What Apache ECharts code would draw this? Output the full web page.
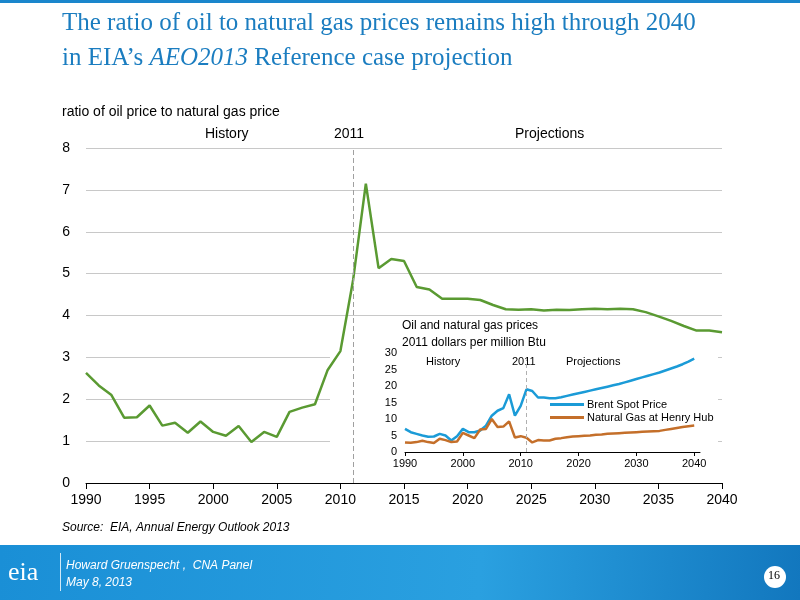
<!DOCTYPE html>
<html>
<head>
<meta charset="utf-8">
<script src="https://cdn.jsdelivr.net/npm/echarts@6/dist/echarts.min.js"></script>
<style>html,body{margin:0;padding:0;background:#fff}#main{width:800px;height:600px}</style>
</head>
<body>
<div id="main"></div>
<script>
// main chart: ratio of oil price to natural gas price, 1990-2040
const years = [];
for (let y = 1990; y <= 2040; y++) years.push(y);
const ratio = [2.63,2.33,2.1,1.56,1.57,1.85,1.37,1.44,1.2,1.47,
  1.22,1.13,1.36,0.98,1.22,1.1,1.7,1.8,1.88,2.7,
  3.15,4.85,7.15,5.13,5.35,5.3,4.68,4.62,4.4,4.4,
  4.4,4.37,4.25,4.15,4.14,4.15,4.12,4.14,4.13,4.15,
  4.16,4.15,4.16,4.15,4.08,3.98,3.87,3.75,3.64,3.64,3.6];
// inset: 2011 dollars per million Btu
const brent = [7,6,5.5,5,4.6,4.7,5.5,5,3.5,4.8,
  7,6,6,6.5,8,11,12.5,13.3,17.5,11,
  14,19,18.5,16.5,16.5,16.3,16.3,16.6,17,17.4,
  17.8,18.2,18.6,19,19.4,19.8,20.2,20.6,21.1,21.6,
  22.1,22.6,23.1,23.6,24.1,24.7,25.3,25.9,26.6,27.4,28.3];
const henryHub = [2.9,2.8,3,3.4,3,2.7,4,3.6,3,3.2,
  5.8,5,4.2,6.8,7,10,7.6,7.7,9.3,4.4,
  4.8,4.3,2.9,3.6,3.5,3.5,4,4.2,4.5,4.7,
  4.8,4.9,5,5.2,5.3,5.5,5.6,5.7,5.8,5.9,
  6,6.1,6.2,6.3,6.4,6.7,7,7.3,7.6,7.8,8];

const pair = arr => arr.map((v, i) => [years[i], v]);
const ff = 'Liberation Sans, Arial, sans-serif';
const yearFmt = v => String(v);

let myChart = echarts.init(document.getElementById('main'));
let option = {
  backgroundColor: '#fff',
  animation: false,
  textStyle: { fontFamily: ff },
  graphic: [
    { type: 'rect', shape: { x: 0, y: 0, width: 800, height: 3 }, style: { fill: '#1a86cc' } },
    { type: 'text', left: 62, top: 11, style: { text: 'The ratio of oil to natural gas prices remains high through 2040', font: '25px "Liberation Serif", serif', fill: '#1b7dc0' } },
    { type: 'text', left: 62, top: 46, style: { rich: { n: { font: '25px "Liberation Serif", serif', fill: '#1b7dc0' }, i: { font: 'italic 25px "Liberation Serif", serif', fill: '#1b7dc0' } }, text: '{n|in EIA’s }{i|AEO2013}{n| Reference case projection}' } },
    { type: 'text', left: 62, top: 105, style: { text: 'ratio of oil price to natural gas price', font: '14px ' + ff, fill: '#000' } },
    { type: 'text', left: 205, top: 127, style: { text: 'History', font: '14px ' + ff, fill: '#000' } },
    { type: 'text', left: 334, top: 127, style: { text: '2011', font: '14px ' + ff, fill: '#000' } },
    { type: 'text', left: 515, top: 127, style: { text: 'Projections', font: '14px ' + ff, fill: '#000' } },
    { type: 'rect', z: 1, shape: { x: 330, y: 319, width: 388, height: 158 }, style: { fill: '#fff' } },
    { type: 'text', z: 3, left: 402, top: 317, style: { text: 'Oil and natural gas prices\n2011 dollars per million Btu', font: '12px ' + ff, fill: '#000', lineHeight: 17 } },
    { type: 'text', z: 3, left: 426, top: 356, style: { text: 'History', font: '11px ' + ff, fill: '#000' } },
    { type: 'text', z: 3, left: 512, top: 356, style: { text: '2011', font: '11px ' + ff, fill: '#000' } },
    { type: 'text', z: 3, left: 566, top: 356, style: { text: 'Projections', font: '11px ' + ff, fill: '#000' } },
    { type: 'text', left: 62, top: 522, style: { text: 'Source:  EIA, Annual Energy Outlook 2013', font: 'italic 12px ' + ff, fill: '#000' } },
    { type: 'rect', shape: { x: 0, y: 545, width: 800, height: 55 }, style: { fill: new echarts.graphic.LinearGradient(0, 0, 1, 1, [{ offset: 0, color: '#1a8fd6' }, { offset: 0.6, color: '#2aa0e0' }, { offset: 1, color: '#1277be' }]) } },
    { type: 'text', left: 8, top: 560, style: { text: 'eia', font: '26px "Liberation Serif", serif', fill: '#fff' } },
    { type: 'rect', shape: { x: 60, y: 553, width: 1, height: 38 }, style: { fill: '#cfe8f7' } },
    { type: 'text', left: 66, top: 557, style: { text: 'Howard Gruenspecht ,  CNA Panel\nMay 8, 2013', font: 'italic 12px ' + ff, fill: '#fff', lineHeight: 17 } },
    { type: 'circle', shape: { cx: 775, cy: 577, r: 11 }, style: { fill: '#fff' } },
    { type: 'text', left: 768, top: 570, style: { text: '16', font: '12px "Liberation Serif", serif', fill: '#000' } }
  ],
  grid: [
    { left: 86, right: 78, top: 148, bottom: 117 },
    { left: 405, right: 100, top: 353, bottom: 148, z: 3 }
  ],
  xAxis: [
    { type: 'value', gridIndex: 0, min: 1990, max: 2040, interval: 5,
      axisLine: { lineStyle: { color: '#000' } }, axisTick: { length: 6, lineStyle: { color: '#000' } },
      axisLabel: { color: '#000', fontSize: 14, margin: 10, formatter: yearFmt }, splitLine: { show: false } },
    { type: 'value', gridIndex: 1, min: 1990, max: 2041, interval: 10, z: 3,
      axisLine: { lineStyle: { color: '#000' } }, axisTick: { length: 4, lineStyle: { color: '#000' } },
      axisLabel: { color: '#000', fontSize: 11, margin: 6, showMaxLabel: false, formatter: yearFmt }, splitLine: { show: false } }
  ],
  yAxis: [
    { type: 'value', gridIndex: 0, min: 0, max: 8, interval: 1,
      axisLine: { show: false }, axisTick: { show: false },
      axisLabel: { color: '#000', fontSize: 14, margin: 16 },
      splitLine: { lineStyle: { color: '#c8c8c8', width: 1.2 } } },
    { type: 'value', gridIndex: 1, min: 0, max: 30, interval: 5, z: 3,
      axisLine: { show: false }, axisTick: { show: false },
      axisLabel: { color: '#000', fontSize: 11, margin: 8 }, splitLine: { show: false } }
  ],
  legend: {
    left: 545, top: 394, orient: 'vertical', itemGap: 2, itemWidth: 34, itemHeight: 3, z: 4,
    textStyle: { fontSize: 11, color: '#000', fontFamily: ff, padding: [0, 0, 0, -2] },
    data: [{ name: 'Brent Spot Price', icon: 'rect' }, { name: 'Natural Gas at Henry Hub', icon: 'rect' }]
  },
  series: [
    { name: 'ratio', type: 'line', xAxisIndex: 0, yAxisIndex: 0, z: 2, data: pair(ratio), symbol: 'none',
      lineStyle: { color: '#5a9a32', width: 2.5 }, itemStyle: { color: '#5a9a32' },
      markLine: { silent: true, symbol: 'none', label: { show: false },
        lineStyle: { color: '#a0a0a0', type: [5, 3], width: 1 }, data: [{ xAxis: 2011 }] } },
    { name: 'Brent Spot Price', type: 'line', xAxisIndex: 1, yAxisIndex: 1, z: 4, data: pair(brent), symbol: 'none',
      lineStyle: { color: '#1b9bd7', width: 2.5 }, itemStyle: { color: '#1b9bd7' },
      markLine: { silent: true, symbol: 'none', label: { show: false },
        lineStyle: { color: '#b0b0b0', type: [4, 3], width: 1 }, data: [[{ coord: [2011, 0] }, { coord: [2011, 28] }]] } },
    { name: 'Natural Gas at Henry Hub', type: 'line', xAxisIndex: 1, yAxisIndex: 1, z: 4, data: pair(henryHub), symbol: 'none',
      lineStyle: { color: '#c46f2a', width: 2.5 }, itemStyle: { color: '#c46f2a' } }
  ]
};
option && myChart.setOption(option);
</script>
</body>
</html>
